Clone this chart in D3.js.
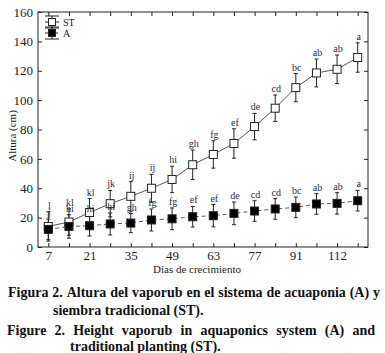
<!DOCTYPE html>
<html>
<head>
<meta charset="utf-8">
<script src="https://cdn.jsdelivr.net/npm/d3@7"></script>
<style>
  body { margin: 0; background: #fff; }
  svg { display: block; }
</style>
</head>
<body>
<div class="chart"></div>
<script>
// dias de crecimiento (categorias del eje x)
const days = [7, 14, 21, 28, 35, 42, 49, 56, 63, 70, 77, 84, 91, 98, 112, 119]
const dayLabels = ["7", "", "21", "", "35", "", "49", "", "63", "", "77", "", "91", "", "112", ""]
const yTicks = [0, 20, 40, 60, 80, 100, 120, 140, 160]

// siembra tradicional (ST)
const stMean = [14, 17, 23.5, 29.5, 34.5, 40, 46, 56, 63, 70.5, 82, 94.5, 108.5, 118.5, 121, 129]
const stErr = [10, 9, 9.5, 9, 10, 9.5, 9, 10, 9.3, 10, 9, 9, 9.6, 9.5, 9.7, 10]
const stLetters = ["l", "kl", "kl", "jk", "ij", "ij", "hi", "gh", "fg", "ef", "de", "cd", "bc", "ab", "ab", "a"]

// acuaponia (A)
const aMean = [12, 14, 14.5, 15.7, 16.3, 18.4, 19.2, 20.6, 21.3, 22.9, 24.5, 25.9, 27, 29.3, 29.7, 31.5]
const aErr = [7, 8, 7, 7.5, 6.5, 7.5, 7.4, 7, 7.6, 7.7, 7, 7, 7, 7, 7.3, 7]
const aLetters = ["j", "hi", "hi", "hi", "gh", "fg", "fg", "ef", "ef", "de", "cd", "cd", "bc", "ab", "ab", "a"]

const width = 385, height = 353
const plotLeft = 38, plotRight = 368, plotTop = 12, plotBottom = 247
const serif = "'Liberation Serif', 'Times New Roman', serif"
const ink = "#222"

let svg = d3.select(".chart")
    .append("svg")
    .attr("width", width)
    .attr("height", height)
    .style("font-family", serif)

let x = d3.scalePoint()
    .domain(days)
    .range([plotLeft, plotRight])
    .padding(0.5)
let y = d3.scaleLinear()
    .domain([0, 160])
    .range([plotBottom, plotTop])

// marco
svg.append("rect")
    .attr("x", plotLeft).attr("y", plotTop)
    .attr("width", plotRight - plotLeft).attr("height", plotBottom - plotTop)
    .attr("fill", "none").attr("stroke", ink).attr("stroke-width", 1)

// ejes (marcas hacia dentro)
svg.append("g")
    .attr("transform", `translate(0,${plotBottom})`)
    .call(d3.axisBottom(x).tickSizeInner(-4).tickSizeOuter(0).tickPadding(4)
        .tickFormat((d, i) => dayLabels[i]))
svg.append("g")
    .attr("transform", `translate(0,${plotTop})`)
    .call(d3.axisTop(x).tickSizeInner(-4).tickSizeOuter(0).tickFormat(""))
svg.append("g")
    .attr("transform", `translate(${plotLeft},0)`)
    .call(d3.axisLeft(y).tickValues(yTicks).tickSizeInner(-4).tickSizeOuter(0).tickPadding(5))
svg.append("g")
    .attr("transform", `translate(${plotRight},0)`)
    .call(d3.axisRight(y).tickValues(yTicks).tickSizeInner(-4).tickSizeOuter(0).tickFormat(""))

svg.selectAll(".domain").remove()
svg.selectAll(".tick line").attr("stroke", ink)
svg.selectAll(".tick text")
    .attr("font-family", serif)
    .attr("font-size", 13)
    .attr("fill", ink)

// titulos de ejes
svg.append("text")
    .attr("x", 197)
    .attr("y", 273)
    .attr("text-anchor", "middle")
    .attr("font-size", 11)
    .attr("fill", ink)
    .text("Días de crecimiento")
svg.append("text")
    .attr("transform", `translate(16,136) rotate(-90)`)
    .attr("text-anchor", "middle")
    .attr("font-size", 11)
    .attr("fill", ink)
    .text("Altura (cm)")

let series = [
    { name: "ST", mean: stMean, err: stErr, letters: stLetters, fill: "#fff", dash: null },
    { name: "A", mean: aMean, err: aErr, letters: aLetters, fill: "#000", dash: "4,3" }
]

// lineas
series.forEach((s) => {
    let line = d3.line()
        .x((d, i) => x(days[i]))
        .y((d) => y(d))
    svg.append("path")
        .datum(s.mean)
        .attr("d", line)
        .attr("fill", "none")
        .attr("stroke", "#444")
        .attr("stroke-width", 0.9)
        .attr("stroke-dasharray", s.dash)
})

// barras de error
series.forEach((s) => {
    let g = svg.append("g").attr("stroke", ink).attr("stroke-width", 1)
    s.mean.forEach((m, i) => {
        let cx = x(days[i])
        g.append("line")
            .attr("x1", cx).attr("x2", cx)
            .attr("y1", y(m - s.err[i])).attr("y2", y(m + s.err[i]))
        g.append("line")
            .attr("x1", cx - 2).attr("x2", cx + 2)
            .attr("y1", y(m + s.err[i])).attr("y2", y(m + s.err[i]))
        g.append("line")
            .attr("x1", cx - 2).attr("x2", cx + 2)
            .attr("y1", y(m - s.err[i])).attr("y2", y(m - s.err[i]))
    })
})

// marcadores y letras
let sq = 8
series.forEach((s) => {
    svg.append("g")
        .selectAll("rect")
        .data(s.mean)
        .enter()
        .append("rect")
        .attr("x", (d, i) => x(days[i]) - sq / 2)
        .attr("y", (d) => y(d) - sq / 2)
        .attr("width", sq)
        .attr("height", sq)
        .attr("fill", s.fill)
        .attr("stroke", ink)
        .attr("stroke-width", 1)
    svg.append("g")
        .selectAll("text")
        .data(s.letters)
        .enter()
        .append("text")
        .attr("x", (d, i) => x(days[i]) + 1)
        .attr("y", (d, i) => y(s.mean[i] + s.err[i]) - 3)
        .attr("text-anchor", "middle")
        .attr("font-size", 10)
        .attr("fill", "#1e2a44")
        .text((d) => d)
})

// leyenda
series.forEach((s, i) => {
    let lx = 52, ly = 22 + i * 11
    let g = svg.append("g").attr("stroke", ink).attr("stroke-width", 1)
    g.append("line").attr("x1", lx - 7).attr("x2", lx + 7).attr("y1", ly).attr("y2", ly)
        .attr("stroke-dasharray", s.dash ? "3,2" : null)
    g.append("line").attr("x1", lx).attr("x2", lx).attr("y1", ly - 6).attr("y2", ly + 6)
    g.append("line").attr("x1", lx - 7).attr("x2", lx + 7).attr("y1", ly - 6).attr("y2", ly - 6)
    g.append("line").attr("x1", lx - 7).attr("x2", lx + 7).attr("y1", ly + 6).attr("y2", ly + 6)
    g.append("rect").attr("x", lx - 3.5).attr("y", ly - 3.5).attr("width", 7).attr("height", 7)
        .attr("fill", s.fill)
    svg.append("text")
        .attr("x", 63).attr("y", ly + 3.5)
        .attr("font-size", 10)
        .attr("fill", ink)
        .text(s.name)
})

// pie de figura (lineas justificadas palabra por palabra)
function captionLine(str, x0, x1, yb, justify) {
    let words = str.split(" ")
    let g = svg.append("g")
    let nodes = words.map((w) => g.append("text")
        .attr("y", yb)
        .attr("font-size", 14)
        .attr("font-weight", "bold")
        .attr("fill", "#111")
        .text(w))
    let widths = nodes.map((n) => n.node().getComputedTextLength())
    let total = d3.sum(widths)
    let gap = justify ? (x1 - x0 - total) / (words.length - 1) : 3.5
    let cx = x0
    nodes.forEach((n, i) => {
        n.attr("x", cx)
        cx += widths[i] + gap
    })
}
captionLine("Figura 2. Altura del vaporub en el sistema de acuaponia (A) y", 8, 380, 297, true)
captionLine("siembra tradicional (ST).", 53, 0, 315, false)
captionLine("Figure 2. Height vaporub in aquaponics system (A) and", 7, 375, 335, true)
captionLine("traditional planting (ST).", 70, 0, 351, false)
</script>
</body>
</html>
